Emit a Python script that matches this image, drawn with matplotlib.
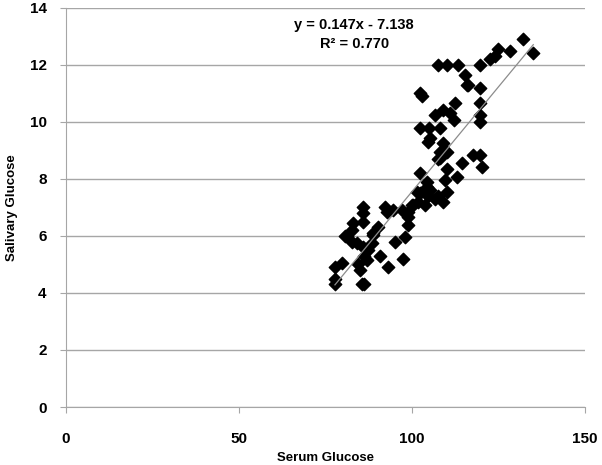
import matplotlib.pyplot as plt
import numpy as np

# Serum vs salivary glucose readings
serum = [
    77.7, 77.7, 77.7, 79.8, 85.5, 86.0, 85.0, 87.0, 84.4, 90.8, 93.0, 97.4,
    95.0, 98.0, 81.2, 82.7, 84.0, 85.8, 88.4, 88.7, 87.3, 86.0,
    85.8, 85.8, 85.8, 83.0, 82.7, 80.6, 92.2, 92.8, 94.5, 97.0, 98.8, 98.8,
    90.2, 88.7, 100.3, 102.3, 101.7, 104.3, 104.6,
    119.6, 117.6, 120.2, 114.5, 113.0, 110.0, 109.5, 109.0, 110.0, 107.5,
    106.6, 108.0, 109.0, 104.6, 107.5, 102.3, 104.3, 105.2, 103.8, 101.4,
    100.0, 98.8,
    102.3, 115.9, 119.6, 112.4, 109.0, 106.6, 111.0, 112.0, 119.6, 119.6,
    119.6, 102.3, 108.0, 105.2, 110.0, 108.0, 105.0,
    132.0, 135.0, 128.3, 124.9, 124.0, 122.5, 119.6, 113.3, 110.0, 107.5,
    115.3, 116.2, 102.8,
]
salivary = [
    4.3, 4.5, 4.9, 5.05, 4.3, 4.3, 4.8, 5.15, 5.0, 5.3, 4.9, 5.2,
    5.8, 5.95, 6.0, 5.8, 5.75, 5.6, 5.75, 6.05, 5.5, 5.3,
    7.0, 6.8, 6.5, 6.45, 6.2, 6.0, 7.0, 6.85, 6.9, 6.9, 6.85, 6.4,
    6.3, 6.1, 7.1, 7.5, 7.2, 7.7, 7.4,
    8.85, 8.85, 8.4, 8.55, 8.05, 8.35, 7.95, 7.2, 7.55, 7.4,
    7.3, 8.95, 9.25, 9.3, 8.7, 8.2, 7.9, 7.6, 7.1, 7.55,
    7.1, 6.65,
    11.0, 11.3, 11.2, 10.65, 10.4, 10.25, 10.3, 10.05, 10.65, 10.25,
    10.0, 9.8, 9.8, 9.45, 8.95, 8.75, 9.8,
    12.9, 12.4, 12.5, 12.55, 12.3, 12.2, 12.0, 12.0, 12.0, 12.0,
    11.65, 11.3, 10.9,
]

slope, intercept, r2 = 0.147, -7.138, 0.770

plt.rcParams['font.family'] = ['Liberation Sans', 'DejaVu Sans']
plt.rcParams['font.weight'] = 'bold'

fig = plt.figure(figsize=(6.02, 4.65), dpi=100)
ax = fig.add_axes([0.1096, 0.1247, 0.8625, 0.8585])

ax.set_xlim(0, 150)
ax.set_ylim(0, 14)
ax.set_xticks([0, 50, 100, 150])
ax.set_yticks(range(0, 15, 2))
ax.yaxis.grid(True, color='#a6a6a6', linewidth=1.0)
ax.set_axisbelow(True)

for side in ['top', 'right']:
    ax.spines[side].set_visible(False)
for side in ['left', 'bottom']:
    ax.spines[side].set_color('#a6a6a6')
ax.tick_params(colors='#a6a6a6', length=4, labelcolor='black', labelsize=11)
ax.tick_params(axis='x', pad=14)
ax.tick_params(axis='y', pad=10)

ax.scatter(serum, salivary, marker='D', s=40, color='black', zorder=3)

xs = np.array([min(serum), max(serum)])
ax.plot(xs, slope * xs + intercept, color='#8c8c8c', linewidth=0.9, zorder=4)

ax.text(0.555, 0.975, f"y = {slope}x - {abs(intercept)}\nR\u00b2 = {r2:.3f}",
        transform=ax.transAxes, ha='center', va='top', fontsize=10.5,
        fontweight='bold', linespacing=1.45)

ax.set_xlabel('Serum Glucose', fontsize=9.5, fontweight='bold', labelpad=4)
ax.set_ylabel('Salivary Glucose', fontsize=9.5, fontweight='bold', labelpad=8)

fig.savefig('out.png')
